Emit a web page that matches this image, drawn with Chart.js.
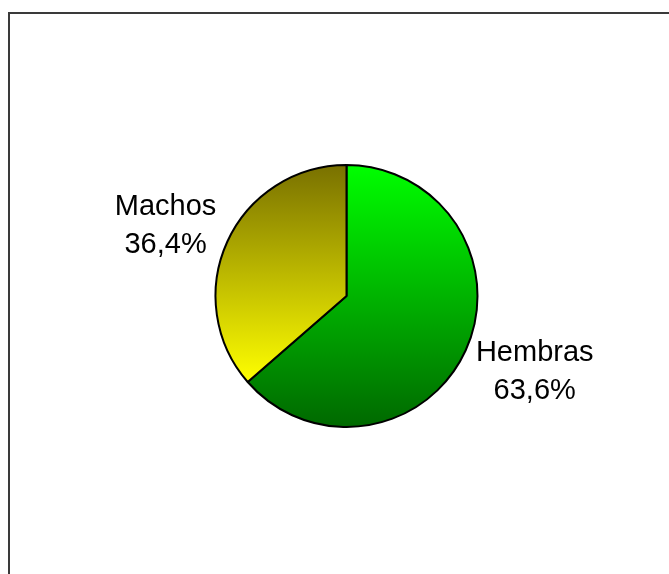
<!DOCTYPE html>
<html>
<head>
<meta charset="utf-8">
<script src="https://cdn.jsdelivr.net/npm/chart.js@4"></script>
<style>
  html, body { margin: 0; padding: 0; background: #fff; overflow: hidden; }
  #wrap { position: relative; width: 669px; height: 574px; }
  #frame { position: absolute; left: 8px; top: 12px; width: 700px; height: 620px;
           border: 2px solid #3a3a3a; box-sizing: border-box; }
  canvas { position: absolute; left: 0; top: 0; }
</style>
</head>
<body>
<div id="wrap">
  <div id="frame"></div>
  <canvas id="chart" width="669" height="574"></canvas>
</div>
<script>
// datos
const categorias = ["Hembras", "Machos"];
const porcentajes = [63.6, 36.4];
const etiquetas = ["63,6%", "36,4%"];
// degradados: color arriba -> color abajo
const coloresArriba = ["#00ff00", "#787000"];
const coloresAbajo = ["#006800", "#ffff00"];

function degradado(ctx) {
  const chart = ctx.chart;
  const area = chart.chartArea;
  if (!area) return coloresArriba[ctx.dataIndex];
  const cy = (area.top + area.bottom) / 2;
  const r = Math.min(area.right - area.left, area.bottom - area.top) / 2;
  const total = porcentajes.reduce((a, b) => a + b, 0);
  let inicio = -Math.PI / 2;
  for (let i = 0; i < ctx.dataIndex; i++) inicio += porcentajes[i] / total * 2 * Math.PI;
  const fin = inicio + porcentajes[ctx.dataIndex] / total * 2 * Math.PI;
  // extremos verticales del sector
  let ys = [cy];
  const paso = (fin - inicio) / 60;
  for (let a = inicio; a <= fin + 1e-9; a += paso) ys.push(cy + Math.sin(a) * r);
  const y0 = Math.min(...ys), y1 = Math.max(...ys);
  const g = chart.ctx.createLinearGradient(0, y0, 0, y1);
  g.addColorStop(0, coloresArriba[ctx.dataIndex]);
  g.addColorStop(1, coloresAbajo[ctx.dataIndex]);
  return g;
}

// etiquetas fuera del pastel
const etiquetasPlugin = {
  id: "etiquetasFuera",
  afterDatasetsDraw(chart) {
    const ctx = chart.ctx;
    const meta = chart.getDatasetMeta(0);
    ctx.save();
    ctx.font = "29px 'Liberation Sans', Arial, sans-serif";
    ctx.fillStyle = "#000";
    ctx.textAlign = "center";
    ctx.textBaseline = "alphabetic";
    const alto = 58, separacion = 17;
    meta.data.forEach((arc, i) => {
      const mid = (arc.startAngle + arc.endAngle) / 2;
      const dx = Math.cos(mid), dy = Math.sin(mid);
      const ancho = Math.max(ctx.measureText(categorias[i]).width, ctx.measureText(etiquetas[i]).width);
      const px = arc.x + dx * (arc.outerRadius + separacion);
      const py = arc.y + dy * (arc.outerRadius + separacion);
      const cx = px + dx * ancho / 2;
      const cy = py + dy * alto / 2;
      ctx.fillText(categorias[i], cx, cy - alto / 2 + 21);
      ctx.fillText(etiquetas[i], cx, cy + alto / 2 + 1);
    });
    ctx.restore();
  }
};

new Chart(document.getElementById("chart"), {
  type: "pie",
  data: {
    labels: categorias,
    datasets: [{
      data: porcentajes,
      backgroundColor: degradado,
      borderColor: "#000",
      borderWidth: 2
    }]
  },
  options: {
    responsive: false,
    animation: false,
    layout: { padding: { left: 214, right: 190, top: 164, bottom: 146 } },
    plugins: {
      legend: { display: false },
      tooltip: { enabled: false }
    }
  },
  plugins: [etiquetasPlugin]
});
</script>
</body>
</html>
